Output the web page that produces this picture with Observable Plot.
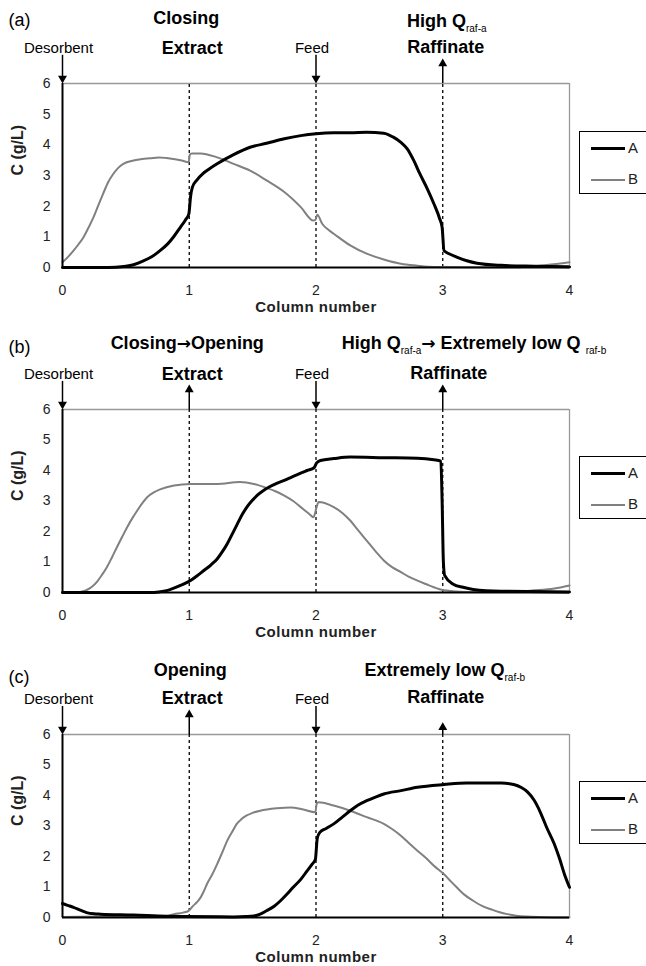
<!DOCTYPE html>
<html>
<head>
<meta charset="utf-8">
<script src="https://cdn.jsdelivr.net/npm/d3@7"></script>
<script src="https://cdn.jsdelivr.net/npm/@observablehq/plot@0.6"></script>
<style>
  body { margin: 0; background: #fff; }
  #chart { position: relative; width: 646px; height: 966px; overflow: hidden;
           font-family: "Liberation Sans", Arial, sans-serif; }
  .panel { position: absolute; left: 0; }
  .legend { position: absolute; left: 579px; width: 90px; height: 63px; box-sizing: border-box;
            border: 1px solid #000; background: #fff; }
  .legend .item { position: absolute; left: 0; height: 16px; font-size: 15px; color: #222; line-height: 16px; }
  .legend .sw { position: absolute; left: 11px; width: 34px; top: 8px; }
  .legend .lab { position: absolute; left: 48px; top: 0; }
</style>
</head>
<body>
<div id="chart"></div>
<script>
// Concentration profiles along the four columns (x = column number, y = C in g/L)
const seriesNames = ["A", "B"];
const xTicks = [0, 1, 2, 3, 4];
const yTicks = [0, 1, 2, 3, 4, 5, 6];
const portPositions = [1, 2, 3];

// (a) Closing extract / high raffinate flow
const aProfileA = [[0,0],[0.3,0],[0.42,0.01],[0.5,0.04],[0.56,0.09],[0.63,0.2],[0.70,0.34],[0.76,0.52],[0.83,0.77],[0.88,1.02],[0.93,1.31],[0.97,1.55],[0.997,1.75],[1.01,2.3],[1.025,2.62],[1.06,2.85],[1.11,3.07],[1.16,3.22],[1.22,3.38],[1.35,3.68],[1.48,3.92],[1.61,4.05],[1.75,4.2],[1.88,4.3],[2.0,4.36],[2.14,4.39],[2.27,4.39],[2.40,4.41],[2.535,4.38],[2.61,4.25],[2.67,4.08],[2.72,3.87],[2.77,3.5],[2.82,3.05],[2.88,2.55],[2.93,2.08],[2.975,1.6],[2.995,1.31],[3.01,0.55],[3.05,0.45],[3.11,0.34],[3.19,0.22],[3.27,0.14],[3.46,0.07],[3.72,0.04],[4.0,0.02]];
const aProfileB = [[0,0.17],[0.04,0.33],[0.087,0.55],[0.125,0.75],[0.166,0.99],[0.205,1.3],[0.245,1.64],[0.28,2.0],[0.32,2.4],[0.36,2.78],[0.40,3.05],[0.44,3.25],[0.48,3.38],[0.56,3.49],[0.63,3.54],[0.69,3.56],[0.76,3.59],[0.82,3.57],[0.875,3.54],[0.94,3.49],[0.995,3.43],[1.005,3.68],[1.02,3.72],[1.09,3.72],[1.22,3.59],[1.35,3.38],[1.48,3.16],[1.61,2.84],[1.75,2.46],[1.88,1.97],[1.98,1.53],[1.995,1.55],[2.01,1.72],[2.05,1.42],[2.10,1.22],[2.14,1.10],[2.27,0.72],[2.40,0.45],[2.535,0.26],[2.67,0.12],[2.80,0.06],[2.93,0.02],[3.2,0.01],[3.6,0.01],[3.82,0.08],[4.0,0.17]];

// (b) Closing -> opening extract / high -> extremely low raffinate flow
const bProfileA = [[0,0],[0.69,0],[0.76,0.02],[0.83,0.07],[0.93,0.23],[1.01,0.39],[1.06,0.54],[1.115,0.72],[1.17,0.9],[1.22,1.10],[1.26,1.33],[1.30,1.60],[1.34,1.92],[1.38,2.25],[1.42,2.57],[1.46,2.83],[1.50,3.03],[1.54,3.2],[1.58,3.33],[1.63,3.46],[1.69,3.58],[1.75,3.68],[1.80,3.77],[1.87,3.9],[1.93,4.0],[1.985,4.09],[2.005,4.25],[2.035,4.33],[2.14,4.39],[2.27,4.44],[2.535,4.42],[2.80,4.40],[2.93,4.35],[2.985,4.31],[2.995,3.0],[3.005,1.0],[3.015,0.56],[3.08,0.28],[3.16,0.17],[3.24,0.10],[3.46,0.04],[4.0,0.02]];
const bProfileB = [[0,0],[0.115,0],[0.155,0.03],[0.195,0.09],[0.23,0.18],[0.27,0.34],[0.31,0.57],[0.35,0.83],[0.39,1.15],[0.43,1.49],[0.47,1.82],[0.51,2.14],[0.55,2.43],[0.59,2.69],[0.63,2.93],[0.67,3.13],[0.72,3.28],[0.77,3.38],[0.88,3.51],[1.01,3.56],[1.22,3.56],[1.40,3.62],[1.51,3.56],[1.61,3.43],[1.68,3.32],[1.75,3.18],[1.82,3.0],[1.88,2.80],[1.94,2.6],[1.98,2.47],[2.005,2.8],[2.02,2.97],[2.14,2.80],[2.21,2.6],[2.27,2.36],[2.33,2.05],[2.40,1.70],[2.47,1.35],[2.535,1.05],[2.60,0.83],[2.67,0.67],[2.73,0.52],[2.80,0.39],[2.87,0.27],[2.93,0.17],[3.01,0.07],[3.19,0.02],[3.5,0.02],[3.72,0.07],[3.88,0.13],[4.0,0.23]];

// (c) Opening extract / extremely low raffinate flow
const cProfileA = [[0,0.46],[0.04,0.40],[0.087,0.33],[0.14,0.24],[0.19,0.16],[0.25,0.12],[0.30,0.11],[0.56,0.08],[0.82,0.04],[0.98,0.03],[1.35,0.02],[1.45,0.03],[1.51,0.05],[1.56,0.11],[1.61,0.22],[1.67,0.37],[1.72,0.55],[1.77,0.76],[1.82,0.99],[1.88,1.25],[1.93,1.53],[1.97,1.75],[1.995,1.90],[2.01,2.6],[2.03,2.79],[2.08,2.92],[2.14,3.07],[2.21,3.3],[2.27,3.50],[2.33,3.68],[2.40,3.83],[2.47,3.95],[2.535,4.05],[2.67,4.16],[2.80,4.27],[3.01,4.36],[3.19,4.41],[3.46,4.41],[3.56,4.36],[3.62,4.26],[3.67,4.11],[3.72,3.85],[3.77,3.45],[3.82,2.95],[3.88,2.41],[3.92,1.95],[3.96,1.42],[4.0,0.99]];
const cProfileB = [[0,0.02],[0.3,0.03],[0.6,0.03],[0.82,0.05],[0.88,0.11],[0.95,0.16],[0.995,0.22],[1.03,0.38],[1.06,0.5],[1.09,0.66],[1.115,0.86],[1.14,1.10],[1.18,1.4],[1.22,1.75],[1.26,2.13],[1.30,2.52],[1.34,2.82],[1.375,3.07],[1.41,3.22],[1.45,3.34],[1.5,3.43],[1.56,3.50],[1.69,3.58],[1.80,3.61],[1.90,3.54],[1.995,3.45],[2.005,3.72],[2.02,3.78],[2.14,3.67],[2.27,3.50],[2.40,3.29],[2.535,3.07],[2.60,2.9],[2.67,2.68],[2.73,2.45],[2.80,2.19],[2.87,1.94],[2.93,1.70],[3.01,1.42],[3.06,1.2],[3.11,0.99],[3.17,0.75],[3.24,0.55],[3.31,0.38],[3.38,0.27],[3.45,0.17],[3.51,0.11],[3.58,0.06],[3.67,0.03],[3.8,0.01],[4.0,0.0]];

// Port streams: inlets point down into the column, outlets point up
const aPorts = [{x: 0, dir: "in"}, {x: 2, dir: "in"}, {x: 3, dir: "out"}];
const bPorts = [{x: 0, dir: "in"}, {x: 1, dir: "out"}, {x: 2, dir: "in"}, {x: 3, dir: "out"}];
const cPorts = [{x: 0, dir: "in"}, {x: 1, dir: "out"}, {x: 2, dir: "in"}, {x: 3, dir: "out", short: true}];

// Stream names and operating-mode headings; _{..} marks a subscript
const aLabels = [
  {text: "(a)", x: 0, dx: -54, dy: -63, size: 18, weight: "normal", anchor: "start"},
  {text: "Closing", x: 1, dx: -3, dy: -65, size: 18, weight: "bold"},
  {text: "High Q_{raf-a}", x: 3, dx: 4, dy: -62, size: 18, weight: "bold"},
  {text: "Desorbent", x: 0, dx: -4, dy: -35, size: 15, weight: "normal"},
  {text: "Extract", x: 1, dx: 3, dy: -35, size: 18, weight: "bold"},
  {text: "Feed", x: 2, dx: -4, dy: -35, size: 15, weight: "normal"},
  {text: "Raffinate", x: 3, dx: 3, dy: -36, size: 18, weight: "bold"}
];
const bLabels = [
  {text: "(b)", x: 0, dx: -54, dy: -62, size: 18, weight: "normal", anchor: "start"},
  {text: "Closing\u2192Opening", x: 1, dx: -2, dy: -66, size: 18, weight: "bold"},
  {text: "High Q_{raf-a}\u2192 Extremely low Q _{raf-b}", x: 3, dx: -101, dy: -66, size: 18, weight: "bold", anchor: "start"},
  {text: "Desorbent", x: 0, dx: -4, dy: -35, size: 15, weight: "normal"},
  {text: "Extract", x: 1, dx: 3, dy: -35, size: 18, weight: "bold"},
  {text: "Feed", x: 2, dx: -4, dy: -35, size: 15, weight: "normal"},
  {text: "Raffinate", x: 3, dx: 6, dy: -36, size: 18, weight: "bold"}
];
const cLabels = [
  {text: "(c)", x: 0, dx: -54, dy: -57, size: 18, weight: "normal", anchor: "start"},
  {text: "Opening", x: 1, dx: 1, dy: -64, size: 18, weight: "bold"},
  {text: "Extremely low Q_{raf-b}", x: 3, dx: 2, dy: -64, size: 18, weight: "bold"},
  {text: "Desorbent", x: 0, dx: -4, dy: -35, size: 15, weight: "normal"},
  {text: "Extract", x: 1, dx: 3, dy: -36, size: 18, weight: "bold"},
  {text: "Feed", x: 2, dx: -4, dy: -35, size: 15, weight: "normal"},
  {text: "Raffinate", x: 3, dx: 3, dy: -37, size: 18, weight: "bold"}
];

const FONT = "'Liberation Sans', Arial, sans-serif";
const INK = "#222";
const GRAY_LINE = "#808080";

function toRows(pairs, s) { return pairs.map(([x, y]) => ({x, y, s})); }

function portMarks(ports) {
  const marks = [];
  for (const p of ports) {
    if (p.dir === "in") {
      marks.push(Plot.ruleX([p.x], {y1: 6.92, y2: 6.1, stroke: "#000", strokeWidth: 1.5}));
      marks.push(Plot.dot([p.x], {x: d => d, y: () => 6.17, symbol: "triangle", r: 3.3, fill: "#000", stroke: "none", rotate: 180}));
    } else {
      const top = p.short ? 6.3 : 6.72;
      marks.push(Plot.ruleX([p.x], {y1: 6, y2: top - 0.05, stroke: "#000", strokeWidth: 1.5}));
      marks.push(Plot.dot([p.x], {x: d => d, y: () => top - 0.07, symbol: "triangle", r: 3.3, fill: "#000", stroke: "none"}));
    }
  }
  return marks;
}

function labelMarks(labels) {
  return labels.map(l => Plot.text([l], {
    x: "x", text: "text", frameAnchor: "top", lineAnchor: "middle", dx: l.dx, dy: l.dy,
    fontSize: l.size, fontWeight: l.weight, textAnchor: l.anchor || "middle", fill: "#000"
  }));
}

// Splits heading strings into tspans: subscripts after Q, and a heavier arrow glyph
function styleHeadings(svg) {
  const ns = "http://www.w3.org/2000/svg";
  d3.select(svg).selectAll("text").each(function () {
    const t = this.textContent;
    if (!t.includes("_{") && !t.includes("\u2192")) return;
    const parts = t.split(/(_\{[^}]*\}|\u2192)/);
    this.textContent = "";
    let lowered = false;
    for (const p of parts) {
      if (!p) continue;
      const ts = document.createElementNS(ns, "tspan");
      if (p.startsWith("_{")) {
        ts.textContent = p.slice(2, -1);
        ts.setAttribute("font-size", "10");
        ts.setAttribute("font-weight", "normal");
        ts.setAttribute("dy", "5");
        lowered = true;
      } else {
        ts.textContent = p;
        if (p === "\u2192") {
          ts.setAttribute("font-family", "'DejaVu Sans', sans-serif");
          ts.setAttribute("font-size", "17");
        }
        if (lowered) { ts.setAttribute("dy", "-5"); lowered = false; }
      }
      this.appendChild(ts);
    }
  });
}

function drawPanel({top, height, plotHeight, profileA, profileB, ports, labels, legendTop}) {
  const rows = [...toRows(profileB, "B"), ...toRows(profileA, "A")];
  const svg = Plot.plot({
    width: 646, height,
    marginLeft: 62, marginRight: 77, marginTop: 83, marginBottom: height - 83 - plotHeight,
    style: {fontFamily: FONT, background: "transparent", overflow: "visible", color: INK},
    x: {domain: [0, 4]},
    y: {domain: [0, 6]},
    marks: [
      Plot.axisY({ticks: yTicks, tickSize: 0, tickPadding: 12, fontSize: 14, label: null, tickFormat: d => d, fill: INK}),
      Plot.axisX({ticks: xTicks, tickSize: 0, tickPadding: 18, fontSize: 14, label: null, tickFormat: d => d, fill: INK}),
      Plot.ruleY([6], {stroke: "#999", strokeWidth: 1.3}),
      Plot.ruleX([4], {y1: 0, y2: 6, stroke: "#999", strokeWidth: 1.3}),
      Plot.ruleX(portPositions, {y1: 0, y2: 6, stroke: "#000", strokeWidth: 1.3, strokeDasharray: "3,3"}),
      Plot.line(rows.filter(d => d.s === "B"), {x: "x", y: "y", stroke: GRAY_LINE, strokeWidth: 2, curve: "monotone-x"}),
      Plot.line(rows.filter(d => d.s === "A"), {x: "x", y: "y", stroke: "#000", strokeWidth: 3, curve: "monotone-x"}),
      Plot.ruleX([0], {y1: 0, y2: 6, stroke: "#000", strokeWidth: 2}),
      Plot.ruleY([0], {stroke: "#000", strokeWidth: 2}),
      Plot.text(["C (g/L)"], {frameAnchor: "left", dx: -45, rotate: -90, fontSize: 16, fontWeight: "bold", fill: INK}),
      Plot.text(["Column number"], {frameAnchor: "bottom", lineAnchor: "middle", dy: 40, fontSize: 15, fontWeight: "bold", fill: INK}),
      ...portMarks(ports),
      ...labelMarks(labels)
    ]
  });
  styleHeadings(svg);
  d3.select(svg).selectAll("text").filter(function () { return this.textContent === "Column number"; })
    .attr("letter-spacing", "0.5");
  const wrap = document.createElement("div");
  wrap.className = "panel";
  wrap.style.top = top + "px";
  wrap.appendChild(svg);
  document.getElementById("chart").appendChild(wrap);

  // legend box to the right of the plot frame
  const leg = document.createElement("div");
  leg.className = "legend";
  leg.style.top = legendTop + "px";
  seriesNames.forEach((name, i) => {
    const item = document.createElement("div");
    item.className = "item";
    item.style.top = (8 + i * 31) + "px";
    item.style.width = "90px";
    const sw = document.createElement("div");
    sw.className = "sw";
    sw.style.borderTop = name === "A" ? "3px solid #000" : "2px solid " + GRAY_LINE;
    sw.style.top = name === "A" ? "7px" : "7.5px";
    const lab = document.createElement("span");
    lab.className = "lab";
    lab.textContent = name;
    item.appendChild(sw);
    item.appendChild(lab);
    leg.appendChild(item);
  });
  document.getElementById("chart").appendChild(leg);
}

drawPanel({top: 0, height: 325, plotHeight: 184, profileA: aProfileA, profileB: aProfileB, ports: aPorts, labels: aLabels, legendTop: 131});
drawPanel({top: 326, height: 325, plotHeight: 183, profileA: bProfileA, profileB: bProfileB, ports: bPorts, labels: bLabels, legendTop: 456});
drawPanel({top: 651, height: 315, plotHeight: 183, profileA: cProfileA, profileB: cProfileB, ports: cPorts, labels: cLabels, legendTop: 781});
</script>
</body>
</html>
